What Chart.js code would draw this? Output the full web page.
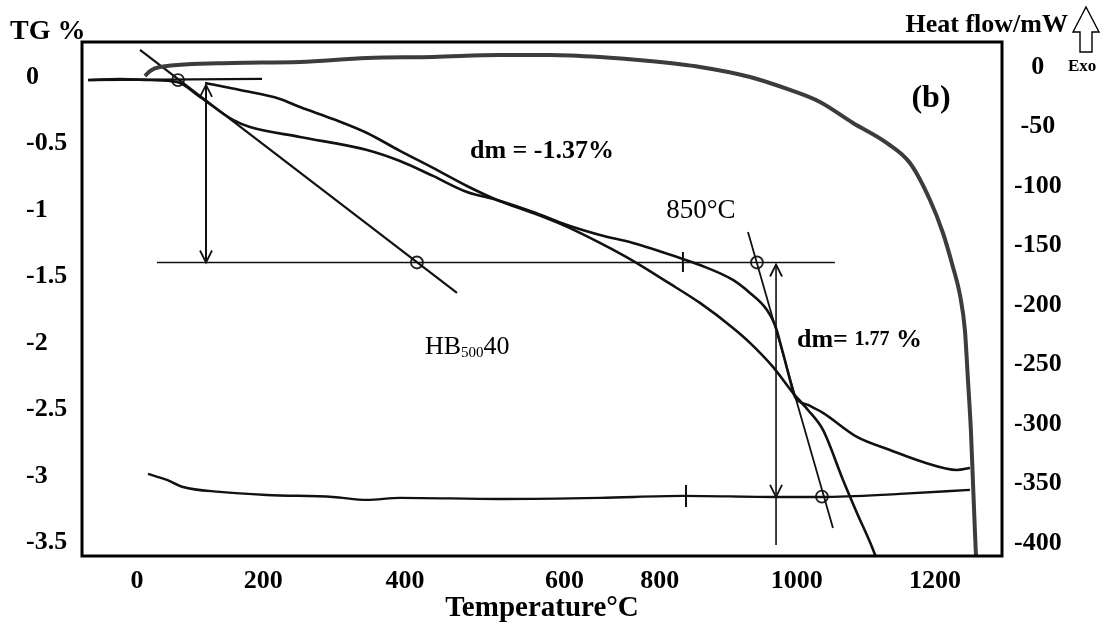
<!DOCTYPE html>
<html>
<head>
<meta charset="utf-8">
<script src="https://cdn.jsdelivr.net/npm/chart.js@4.4.0/dist/chart.umd.min.js"></script>
<style>
  html, body { margin: 0; padding: 0; background: #fff; }
  #wrap { width: 1109px; height: 635px; position: relative; }
</style>
</head>
<body>
<div id="wrap"><canvas id="c"></canvas></div>
<script>
// ---------------- data ----------------
// x axis tick labels and where they sit on the temperature scale
const xTickLabels = ['0', '200', '400', '600', '800', '1000', '1200'];
const xTickValues = [0, 190, 403, 643, 786, 992, 1200];
// left axis (TG %)
const tgTickValues = [0, -0.5, -1, -1.5, -2, -2.5, -3, -3.5];
const tgTickLabels = ['0', '-0.5', '-1', '-1.5', '-2', '-2.5', '-3', '-3.5'];
// right axis (Heat flow / mW)
const hfTickValues = [0, -50, -100, -150, -200, -250, -300, -350, -400];
const hfTickLabels = ['0', '-50', '-100', '-150', '-200', '-250', '-300', '-350', '-400'];

// TG curve (mass change, %)
const tgTemp = [-73.7, -25.6, 19.5, 60.2, 94.7, 144.4, 169.9, 245.1, 345.9, 395.5, 445.1, 496.2, 541.4, 595.5, 646.6, 696.2, 745.9, 816.5, 846.6, 896.2, 921.8, 947.4, 959.4, 971.4, 982, 989.5, 1009, 1031.6, 1082.7, 1132.3, 1181.9, 1233, 1252.6];
const tgMass = [-0.023, -0.015, -0.023, -0.038, -0.150, -0.323, -0.376, -0.451, -0.549, -0.632, -0.744, -0.865, -0.925, -1.015, -1.113, -1.188, -1.248, -1.361, -1.414, -1.526, -1.624, -1.752, -1.865, -2.075, -2.278, -2.406, -2.466, -2.526, -2.707, -2.805, -2.895, -2.955, -2.940];

// second trace (steepening curve)
const trace2Temp = [102.3, 154.9, 215, 245.1, 294.7, 345.9, 395.5, 445.1, 496.2, 541.4, 595.5, 643.6, 696.2, 745.9, 797, 846.6, 896.2, 921.8, 956.4, 986.5, 1009, 1031.6, 1061.7, 1082.7, 1105.3, 1112.8];
const trace2Mass = [-0.045, -0.098, -0.165, -0.226, -0.316, -0.421, -0.556, -0.684, -0.820, -0.925, -1.023, -1.120, -1.248, -1.383, -1.541, -1.699, -1.887, -1.999, -2.180, -2.376, -2.504, -2.654, -3.030, -3.278, -3.534, -3.632];

// lower baseline trace
const lowTemp = [16.5, 45.1, 69.2, 124.8, 195.5, 294.7, 345.9, 395.5, 545.9, 696.2, 821, 961, 1030, 1147.4, 1252.6];
const lowMass = [-2.985, -3.030, -3.083, -3.120, -3.143, -3.158, -3.180, -3.165, -3.173, -3.165, -3.150, -3.158, -3.158, -3.135, -3.105];

// DSC curve (heat flow, mW)
const dscTemp = [12, 19.5, 34.6, 144.4, 245.1, 345.9, 445.1, 546, 621, 696, 771, 846.6, 921.8, 982, 1027, 1076.7, 1127.8, 1162.4, 1192.5, 1212, 1227, 1237.6, 1245, 1249.6, 1254, 1257, 1260, 1261.7];
const dscFlow = [-7.6, -3.4, 0, 3.4, 4.2, 7.6, 8.4, 10.1, 10.1, 8.4, 5.0, 0, -8.4, -19.3, -29.4, -47, -63.9, -80.7, -111.8, -139.5, -168, -191.6, -221, -263, -305, -347, -389, -411];

// construction lines (temperature pairs, TG pairs)
const startBaseT = [-73.7, 188];     const startBaseV = [-0.023, -0.015];
const tangent1T = [4.5, 481.2];      const tangent1V = [0.203, -1.624];
const midLineT = [30.1, 1049.6];     const midLineV = [-1.395, -1.395];
const arrow1T = [103.8, 103.8];      const arrow1V = [-0.06, -1.395];
const tangent2T = [918.8, 1046.6];   const tangent2V = [-1.165, -3.391];
const arrow2T = [961, 961];          const arrow2V = [-1.41, -3.519];
const mark1T = [821, 821];           const mark1V = [-1.316, -1.466];
const mark2T = [825.6, 825.6];       const mark2V = [-3.068, -3.233];
// circled intersection points
const circleT = [61.7, 421, 932.3, 1030];
const circleV = [-0.023, -1.395, -1.395, -3.155];
// arrow heads [temperature, TG, direction]
const arrowHeads = [[103.8, -0.06, 'up'], [103.8, -1.395, 'down'], [961, -1.41, 'up'], [961, -3.158, 'down']];

// ---------------- chart ----------------
const SERIF = '"Liberation Serif", "Times New Roman", serif';
const zip = (xs, ys) => xs.map((t, i) => ({ x: t, y: ys[i] }));

const curve = (data, width, color, axis) => ({
  data, borderColor: color, borderWidth: width, pointRadius: 0, fill: false,
  cubicInterpolationMode: 'monotone', yAxisID: axis || 'y'
});
const straight = (data, width) => ({
  data, borderColor: '#111', borderWidth: width || 1.6, pointRadius: 0, fill: false, tension: 0, yAxisID: 'y'
});

const notes = [
  { T: 1194, v: -0.165, align: 'center', runs: [{ t: '(b)', f: 'bold 32px ' + SERIF }] },
  { T: 609, v: -0.556, align: 'center', runs: [{ t: 'dm = -1.37%', f: 'bold 26px ' + SERIF }] },
  { T: 848, v: -1.008, align: 'center', runs: [{ t: '850°C', f: '27px ' + SERIF }] },
  { T: 992.5, v: -1.977, align: 'left', runs: [
      { t: 'dm= ', f: 'bold 26px ' + SERIF },
      { t: '1.77', f: 'bold 20px ' + SERIF },
      { t: ' %', f: 'bold 26px ' + SERIF }] },
  { T: 433, v: -2.03, align: 'left', runs: [
      { t: 'HB', f: '26px ' + SERIF },
      { t: '500', f: '15px ' + SERIF, dy: 6 },
      { t: '40', f: '26px ' + SERIF }] }
];

function drawRuns(ctx, runs, px, py, align) {
  let total = 0;
  runs.forEach(r => { ctx.font = r.f; total += ctx.measureText(r.t).width; });
  let cx = align === 'center' ? px - total / 2 : px;
  ctx.textAlign = 'left';
  runs.forEach(r => {
    ctx.font = r.f;
    ctx.fillText(r.t, cx, py + (r.dy || 0));
    cx += ctx.measureText(r.t).width;
  });
}

const overlay = {
  id: 'overlay',
  afterDatasetsDraw(chart) {
    const { ctx, chartArea: a, scales } = chart;
    const sx = scales.x, sy = scales.y;
    ctx.save();
    // frame
    ctx.strokeStyle = '#000';
    ctx.lineWidth = 3;
    ctx.strokeRect(a.left, a.top, a.right - a.left, a.bottom - a.top);
    // arrow heads
    ctx.strokeStyle = '#111';
    ctx.lineWidth = 1.8;
    arrowHeads.forEach(([t, v, dir]) => {
      const px = sx.getPixelForValue(t), py = sy.getPixelForValue(v);
      const s = dir === 'up' ? 1 : -1;
      ctx.beginPath();
      ctx.moveTo(px - 6, py + s * 12);
      ctx.lineTo(px, py);
      ctx.lineTo(px + 6, py + s * 12);
      ctx.stroke();
    });
    // annotations
    ctx.fillStyle = '#000';
    ctx.textBaseline = 'middle';
    notes.forEach(n => drawRuns(ctx, n.runs, sx.getPixelForValue(n.T), sy.getPixelForValue(n.v), n.align));
    // axis names
    ctx.font = 'bold 28px ' + SERIF;
    ctx.textAlign = 'left';
    ctx.fillText('TG %', a.left - 72, a.top - 10);
    ctx.font = 'bold 26px ' + SERIF;
    ctx.textAlign = 'right';
    ctx.fillText('Heat flow/mW', a.right + 66, a.top - 17);
    ctx.font = 'bold 17px ' + SERIF;
    ctx.textAlign = 'left';
    ctx.fillText('Exo', a.right + 66, a.top + 25);
    // hollow "exo" arrow
    const ax = a.right + 84;
    ctx.lineWidth = 1.4;
    ctx.strokeStyle = '#000';
    ctx.beginPath();
    ctx.moveTo(ax - 6, a.top + 10);
    ctx.lineTo(ax - 6, a.top - 10);
    ctx.lineTo(ax - 13, a.top - 10);
    ctx.lineTo(ax, a.top - 35);
    ctx.lineTo(ax + 13, a.top - 10);
    ctx.lineTo(ax + 6, a.top - 10);
    ctx.lineTo(ax + 6, a.top + 10);
    ctx.closePath();
    ctx.stroke();
    ctx.restore();
  }
};

const tickFont = { family: SERIF, size: 26, weight: 'bold' };

new Chart(document.getElementById('c'), {
  type: 'line',
  data: {
    datasets: [
      curve(zip(dscTemp, dscFlow), 4, '#3c3c3c', 'y2'),
      curve(zip(tgTemp, tgMass), 2.6, '#111'),
      curve(zip(trace2Temp, trace2Mass), 2.6, '#111'),
      curve(zip(lowTemp, lowMass), 2.4, '#111'),
      straight(zip(startBaseT, startBaseV), 2.2),
      straight(zip(tangent1T, tangent1V), 2.2),
      straight(zip(midLineT, midLineV), 1.6),
      straight(zip(arrow1T, arrow1V), 2.0),
      straight(zip(tangent2T, tangent2V), 1.8),
      straight(zip(arrow2T, arrow2V), 1.6),
      straight(zip(mark1T, mark1V), 2.0),
      straight(zip(mark2T, mark2V), 2.0),
      {
        data: zip(circleT, circleV), showLine: false, yAxisID: 'y',
        pointRadius: 6, pointStyle: 'circle', pointBorderWidth: 1.8,
        pointBorderColor: '#222', pointBackgroundColor: 'rgba(0,0,0,0)'
      }
    ]
  },
  options: {
    responsive: true,
    maintainAspectRatio: false,
    animation: false,
    events: [],
    layout: { padding: { top: 42, left: 26, right: 0, bottom: 0 } },
    plugins: { legend: { display: false }, tooltip: { enabled: false } },
    scales: {
      x: {
        type: 'linear', min: -82.7, max: 1300.8,
        grid: { display: false }, border: { display: false },
        afterBuildTicks: s => { s.ticks = xTickValues.map(v => ({ value: v })); },
        ticks: {
          autoSkip: false, maxRotation: 0, padding: 2, color: '#000', font: tickFont,
          callback: (v, i) => xTickLabels[i]
        },
        title: {
          display: true, text: 'Temperature°C', color: '#000',
          font: { family: SERIF, size: 29, weight: 'bold' }, padding: { top: 0, bottom: 9 }
        },
        afterFit: s => { s.height = 79; }
      },
      y: {
        type: 'linear', position: 'left', min: -3.602, max: 0.263,
        grid: { display: false }, border: { display: false },
        afterBuildTicks: s => { s.ticks = tgTickValues.map(v => ({ value: v })); },
        ticks: {
          crossAlign: 'far', padding: 8, color: '#000', font: tickFont,
          callback: (v, i) => tgTickLabels[i]
        },
        afterFit: s => { s.width = 56; }
      },
      y2: {
        type: 'linear', position: 'right', min: -410.9, max: 21,
        grid: { display: false }, border: { display: false },
        afterBuildTicks: s => { s.ticks = hfTickValues.map(v => ({ value: v })); },
        ticks: {
          crossAlign: 'center', padding: 4, color: '#000', font: tickFont,
          callback: (v, i) => hfTickLabels[i]
        },
        afterFit: s => { s.width = 107; }
      }
    }
  },
  plugins: [overlay]
});
</script>
</body>
</html>
